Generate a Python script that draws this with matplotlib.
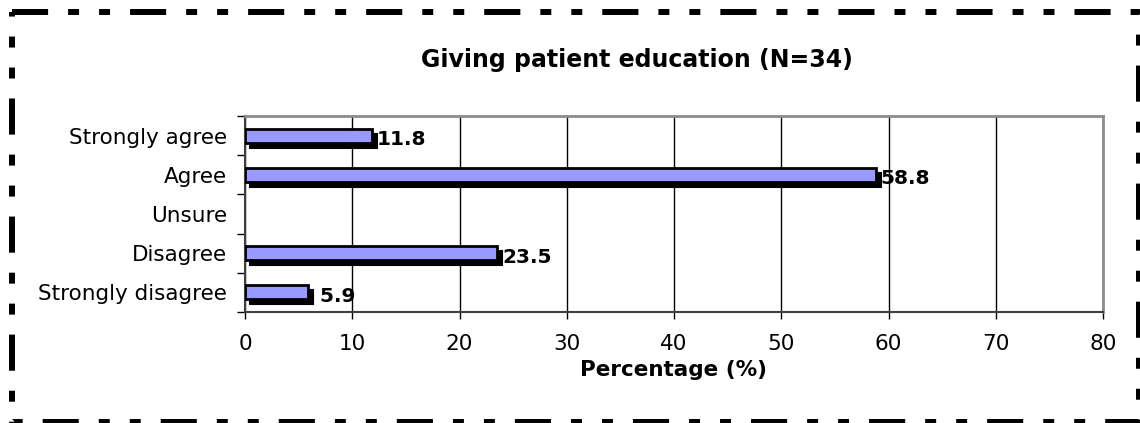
import matplotlib
matplotlib.use("Agg")
import matplotlib.pyplot as plt
import matplotlib.transforms as mtransforms
from matplotlib.lines import Line2D
import numpy as np

plt.rcParams['font.family'] = ['DejaVu Sans']
plt.rcParams['lines.scale_dashes'] = False

categories = ["Strongly agree", "Agree", "Unsure", "Disagree", "Strongly disagree"]
percentages = [11.8, 58.8, 0.0, 23.5, 5.9]
x_ticks = [0, 10, 20, 30, 40, 50, 60, 70, 80]
title = "Giving patient education (N=34)"
x_label = "Percentage (%)"

W, H = 1140, 423
fig = plt.figure(figsize=(W / 100, H / 100), dpi=100)

# plot area in pixel coordinates
px_left, px_right, px_top, px_bottom = 245, 1103, 116, 312
ax = fig.add_axes([px_left / W, 1 - px_bottom / H,
                   (px_right - px_left) / W, (px_bottom - px_top) / H])

y = np.arange(len(categories))
bar_h = 0.36

# drop shadow, shifted right and down in screen space
shadow_tr = mtransforms.offset_copy(ax.transData, fig=fig, x=5, y=-5, units='dots')
for yi, v in zip(y, percentages):
    if v > 0:
        ax.barh(yi, v, height=bar_h, color='black', edgecolor='black',
                linewidth=1.5, transform=shadow_tr, zorder=3)
bars = ax.barh(y, [v if v > 0 else np.nan for v in percentages], height=bar_h,
               color='#9999FF', edgecolor='black', linewidth=2, zorder=4)

label_tr = mtransforms.offset_copy(ax.transData, fig=fig, x=5, y=-4, units='dots')
for yi, v in zip(y, percentages):
    if v > 0:
        ax.text(v, yi, f"{v:4.1f}", transform=label_tr, ha='left', va='center',
                fontsize=14.5, fontweight='bold', color='black', zorder=2.5)

ax.set_xlim(0, 80)
ax.set_ylim(len(categories) - 0.5, -0.5)
ax.set_xticks(x_ticks)
ax.set_xticklabels([str(t) for t in x_ticks], fontsize=15.5)
ax.set_yticks(y)
ax.set_yticklabels(categories, fontsize=15.5)
ax.set_yticks(np.arange(-0.5, len(categories)), minor=True)
ax.tick_params(axis='y', which='major', length=0, pad=13)
ax.tick_params(axis='y', which='minor', length=6, width=1, direction='out', color='black')
ax.tick_params(axis='x', which='major', length=5, width=1, direction='out', pad=11, color='black')

ax.grid(axis='x', color='black', linewidth=1)
ax.set_axisbelow(True)
for s in ['top', 'right']:
    ax.spines[s].set_color('#8c8c8c')
    ax.spines[s].set_linewidth(2)
for s in ['left', 'bottom']:
    ax.spines[s].set_color('#404040')
    ax.spines[s].set_linewidth(1.5)

ax.set_xlabel(x_label, fontsize=15.5, fontweight='bold', labelpad=4)

fig.text(637 / W, 1 - 60 / H, title, ha='center', va='center',
         fontsize=17, fontweight='bold')

# dash-dot-dot frame around the chart
dash = (0, (26, 14.4, 7.9, 14.4, 7.9, 14.4))
x0, x1 = 12 / W, 1138.5 / W
y0, y1 = 1 - 421.5 / H, 1 - 12 / H
frame = Line2D([x0, x1, x1, x0, x0], [y1, y1, y0, y0, y1], transform=fig.transFigure,
               color='black', linewidth=4.3, linestyle=dash, solid_capstyle='butt',
               dash_capstyle='butt')
fig.add_artist(frame)

fig.savefig("out.png", dpi=100)
